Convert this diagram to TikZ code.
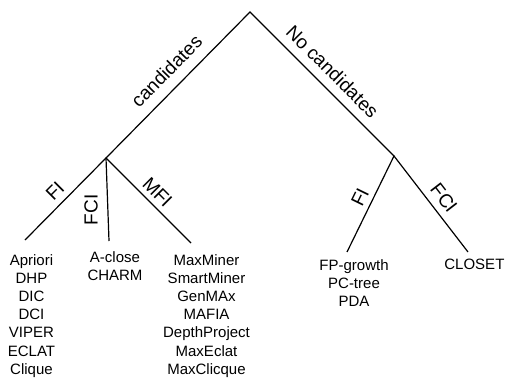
\documentclass[tikz,border=0pt]{standalone}
\usepackage{fontspec}
\setmainfont{Liberation Sans}
\begin{document}
\begin{tikzpicture}[x=1pt,y=-1pt,
  branch/.style={draw=black,line width=1.2pt},
  lbl/.style={inner sep=0pt,font=\fontsize{19}{22}\selectfont},
  algs/.style={inner sep=0pt,anchor=north,align=center,font=\fontsize{15}{18.2}\selectfont}]
\useasboundingbox (0,0) rectangle (505,379);
\coordinate (top) at (250,12);
\coordinate (L) at (106,158);
\coordinate (R) at (394,156);
\coordinate (lfi) at (25,240);
\coordinate (lfci) at (109,241);
\coordinate (lmfi) at (191,243);
\coordinate (rfi) at (347,252);
\coordinate (rfci) at (468,252);
\draw[branch] (L) -- (top) -- (R);
\draw[branch] (lfi) -- (L) -- (lmfi);
\draw[branch] (L) -- (lfci);
\draw[branch] (rfi) -- (R) -- (rfci);
\node[lbl,rotate=45.6] (cand) at (166.5,71) {candidates};
\node[lbl,rotate=-45] (nocand) at (332.5,71.5) {No candidates};
\node[lbl,rotate=45] (fi1) at (55,191) {FI};
\node[lbl,rotate=90] (fci1) at (91,210) {FCI};
\node[lbl,rotate=-45] (mfi) at (157.5,192.5) {MFI};
\node[lbl,rotate=64] (fi2) at (360,197) {FI};
\node[lbl,rotate=-52.4] (fci2) at (444,198) {FCI};
\node[algs] (list1) at (31.5,254) {Apriori\\DHP\\DIC\\DCI\\VIPER\\ECLAT\\Clique};
\node[algs] (list2) at (115,251) {A-close\\CHARM};
\node[algs] (list3) at (206.5,254) {MaxMiner\\SmartMiner\\GenMAx\\MAFIA\\DepthProject\\MaxEclat\\MaxClicque};
\node[algs] (list4) at (354,259) {FP-growth\\PC-tree\\PDA};
\node[algs] (list5) at (474.4,259) {CLOSET};
\end{tikzpicture}
\end{document}
